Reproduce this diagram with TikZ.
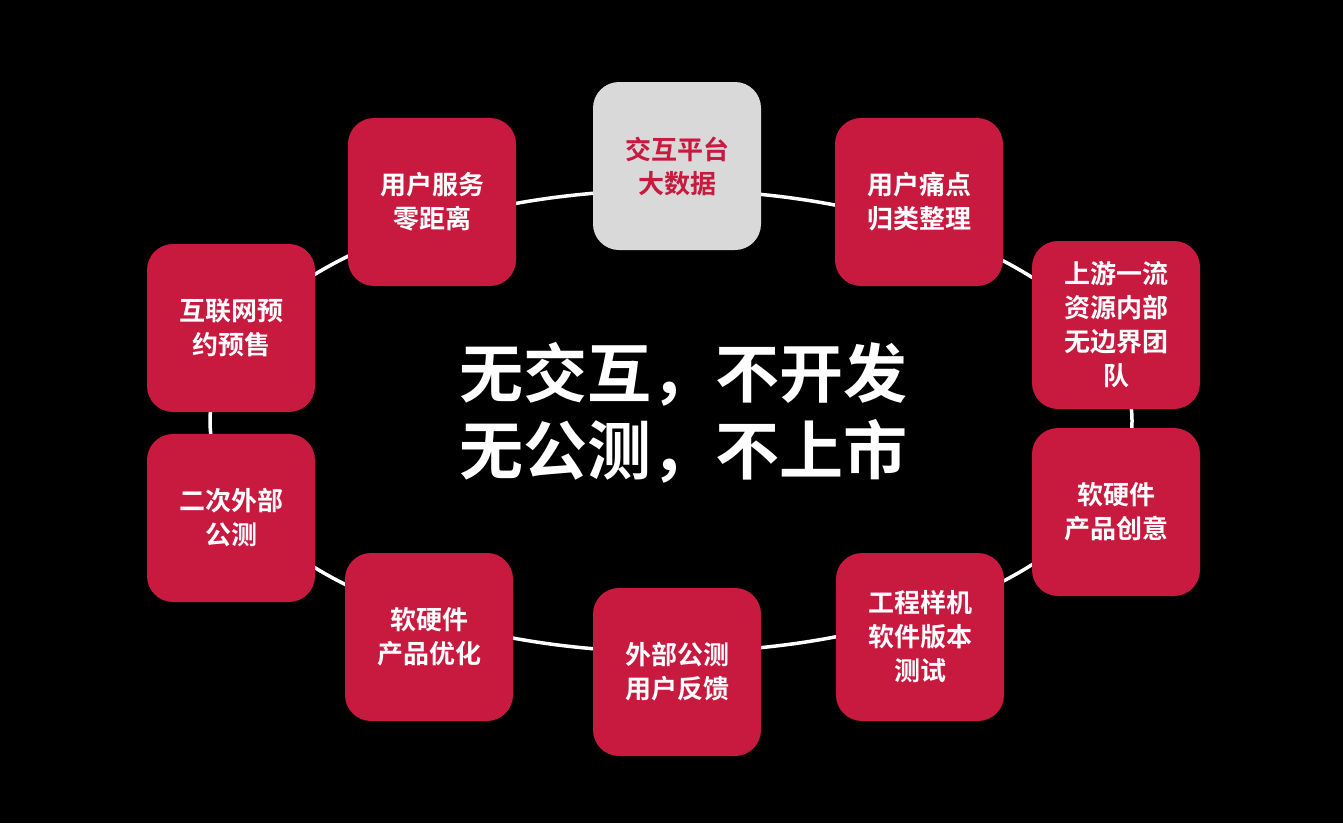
\documentclass[tikz,border=0pt]{standalone}
\usepackage{fontspec}
\newfontfamily\cjk{Noto Sans CJK SC Bold}
\definecolor{boxred}{HTML}{C8193F}
\definecolor{boxgray}{HTML}{D9D9D9}
\begin{document}
\begin{tikzpicture}[x=1pt,y=-1pt,
  card/.style={draw=none,fill=boxred,rounded corners=26pt,minimum width=168pt,minimum height=168pt,
    text=white,font=\cjk\fontsize{26}{34}\selectfont,align=center,inner sep=0pt},
  graycard/.style={card,fill=boxgray,text=boxred}]
\fill[black] (0,0) rectangle (1343,823);
\draw[white,line width=3.5pt] (671,421) ellipse [x radius=461, y radius=231];
\node[graycard] (a) at (677,166) {交互平台\\大数据};
\node[card] (b) at (919,202) {用户痛点\\归类整理};
\node[card] (c) at (1116,325) {上游一流\\资源内部\\无边界团\\队};
\node[card] (d) at (1116,512) {软硬件\\产品创意};
\node[card] (e) at (920,637) {工程样机\\软件版本\\测试};
\node[card] (f) at (677,672) {外部公测\\用户反馈};
\node[card] (g) at (429,637) {软硬件\\产品优化};
\node[card] (h) at (231,518) {二次外部\\公测};
\node[card] (i) at (231,328) {互联网预\\约预售};
\node[card] (j) at (432,202) {用户服务\\零距离};
\node[text=white,font=\cjk\fontsize{64}{77}\selectfont,align=center] (m) at (683,413) {无交互，不开发\\无公测，不上市};
\end{tikzpicture}
\end{document}
